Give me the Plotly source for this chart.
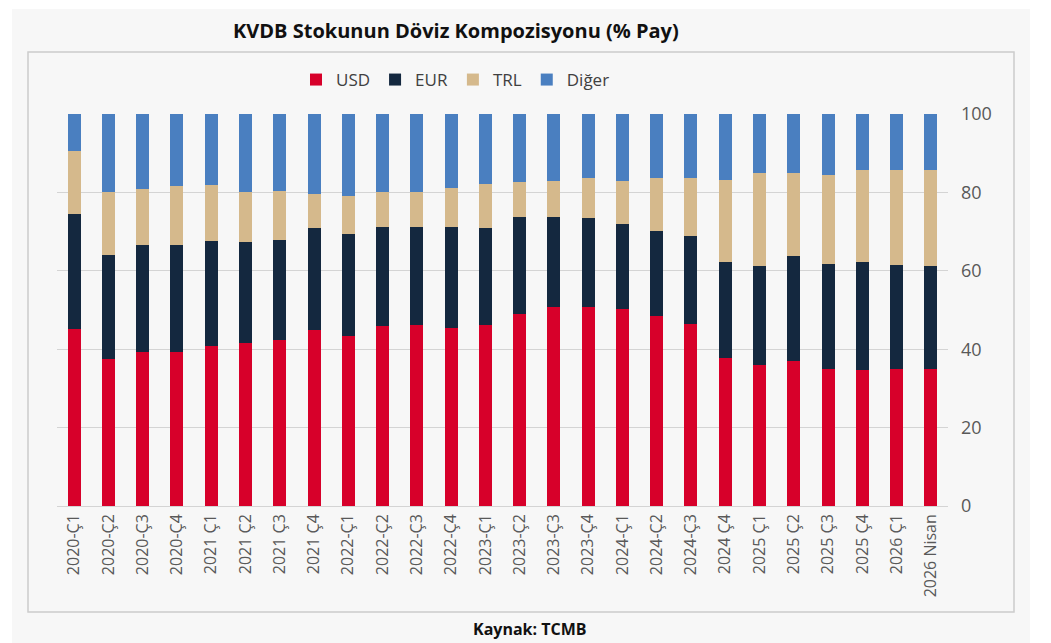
import plotly.graph_objects as go

categories = ["2020-Ç1", "2020-Ç2", "2020-Ç3", "2020-Ç4",
              "2021 Ç1", "2021 Ç2", "2021 Ç3", "2021 Ç4",
              "2022-Ç1", "2022-Ç2", "2022-Ç3", "2022-Ç4",
              "2023-Ç1", "2023-Ç2", "2023-Ç3", "2023-Ç4",
              "2024-Ç1", "2024-Ç2", "2024-Ç3", "2024 Ç4",
              "2025 Ç1", "2025 Ç2", "2025 Ç3", "2025 Ç4",
              "2026 Ç1", "2026 Nisan"]

usd = [45.2, 37.4, 39.4, 39.4, 40.8, 41.5, 42.3, 44.9, 43.3, 45.8, 46.2, 45.3,
       46.2, 49.1, 50.8, 50.8, 50.3, 48.4, 46.5, 37.8, 35.9, 37.1, 35.0, 34.6,
       35.0, 35.0]
eur = [29.3, 26.6, 27.1, 27.1, 26.9, 25.8, 25.6, 26.0, 26.2, 25.5, 25.1, 26.0,
       24.7, 24.7, 23.0, 22.7, 21.6, 21.8, 22.4, 24.4, 25.2, 26.8, 26.8, 27.6,
       26.6, 26.2]
trl = [16.1, 16.1, 14.4, 15.2, 14.2, 12.8, 12.5, 8.6, 9.6, 8.7, 8.7, 9.7,
       11.3, 8.8, 9.1, 10.1, 11.0, 13.4, 14.7, 20.9, 23.8, 21.0, 22.6, 23.5,
       24.1, 24.5]
diger = [9.4, 19.9, 19.1, 18.3, 18.1, 19.9, 19.6, 20.5, 20.9, 20.0, 20.0, 19.0,
         17.8, 17.4, 17.1, 16.4, 17.1, 16.4, 16.4, 16.9, 15.1, 15.1, 15.6, 14.3,
         14.3, 14.3]

series = [("USD", usd, "#d7002a"), ("EUR", eur, "#14283f"),
          ("TRL", trl, "#d5b98c"), ("Diğer", diger, "#4a7fc0")]

fig = go.Figure()
for name, vals, col in series:
    fig.add_trace(go.Bar(x=categories, y=vals, name=name,
                         marker=dict(color=col, line=dict(width=0))))

# page is offset by 8px body margin; figure is 1043x635
W, H = 1043, 635
fig.update_layout(
    width=W, height=H, barmode="stack", bargap=0.62,
    paper_bgcolor="white", plot_bgcolor="rgba(0,0,0,0)",
    margin=dict(l=49, r=103, t=106, b=137),
    font=dict(family="Open Sans", color="#595959"),
    showlegend=True,
    legend=dict(orientation="h", x=(296 - 57) / 891, xref="paper",
                y=(506 - 80) / 392, yanchor="middle", xanchor="left",
                font=dict(size=17, color="#404040"),
                traceorder="normal", itemwidth=30,
                bgcolor="rgba(0,0,0,0)"),
    xaxis=dict(type="category", tickangle=-90, showgrid=False, ticks="",
               tickfont=dict(size=16, color="#595959"), showline=False,
               zeroline=False, ticklabelstandoff=4),
    yaxis=dict(side="right", range=[0, 100], tickvals=[0, 20, 40, 60, 80, 100],
               showgrid=True, gridcolor="#d4d4d4", gridwidth=1.2,
               zeroline=True, zerolinecolor="#d4d4d4", zerolinewidth=1.2,
               tickfont=dict(size=18, color="#595959"), ticks="",
               ticklabelstandoff=12),
    shapes=[
        dict(type="rect", xref="paper", yref="paper",
             x0=(12 - 57) / 891, x1=(1030 - 57) / 891,
             y0=(506 - 650) / 392, y1=(506 - 9) / 392,
             fillcolor="#f7f7f7", line=dict(width=0), layer="below"),
        dict(type="rect", xref="paper", yref="paper",
             x0=(28 - 57) / 891, x1=(1014 - 57) / 891,
             y0=(506 - 612) / 392, y1=(506 - 52) / 392,
             fillcolor="rgba(0,0,0,0)", line=dict(width=1.5, color="#cccccc"),
             layer="below"),
    ],
    annotations=[
        dict(text="<b>KVDB Stokunun Döviz Kompozisyonu (% Pay)</b>",
             xref="paper", yref="paper", x=(456 - 57) / 891, y=(506 - 30) / 392,
             xanchor="center", yanchor="middle", showarrow=False,
             font=dict(size=20, color="#111111", family="Open Sans")),
        dict(text="<b>Kaynak: TCMB</b>",
             xref="paper", yref="paper", x=(530 - 57) / 891, y=(506 - 629) / 392,
             xanchor="center", yanchor="middle", showarrow=False,
             font=dict(size=16, color="#111111", family="Open Sans")),
    ],
)

fig.write_html("out.html")
